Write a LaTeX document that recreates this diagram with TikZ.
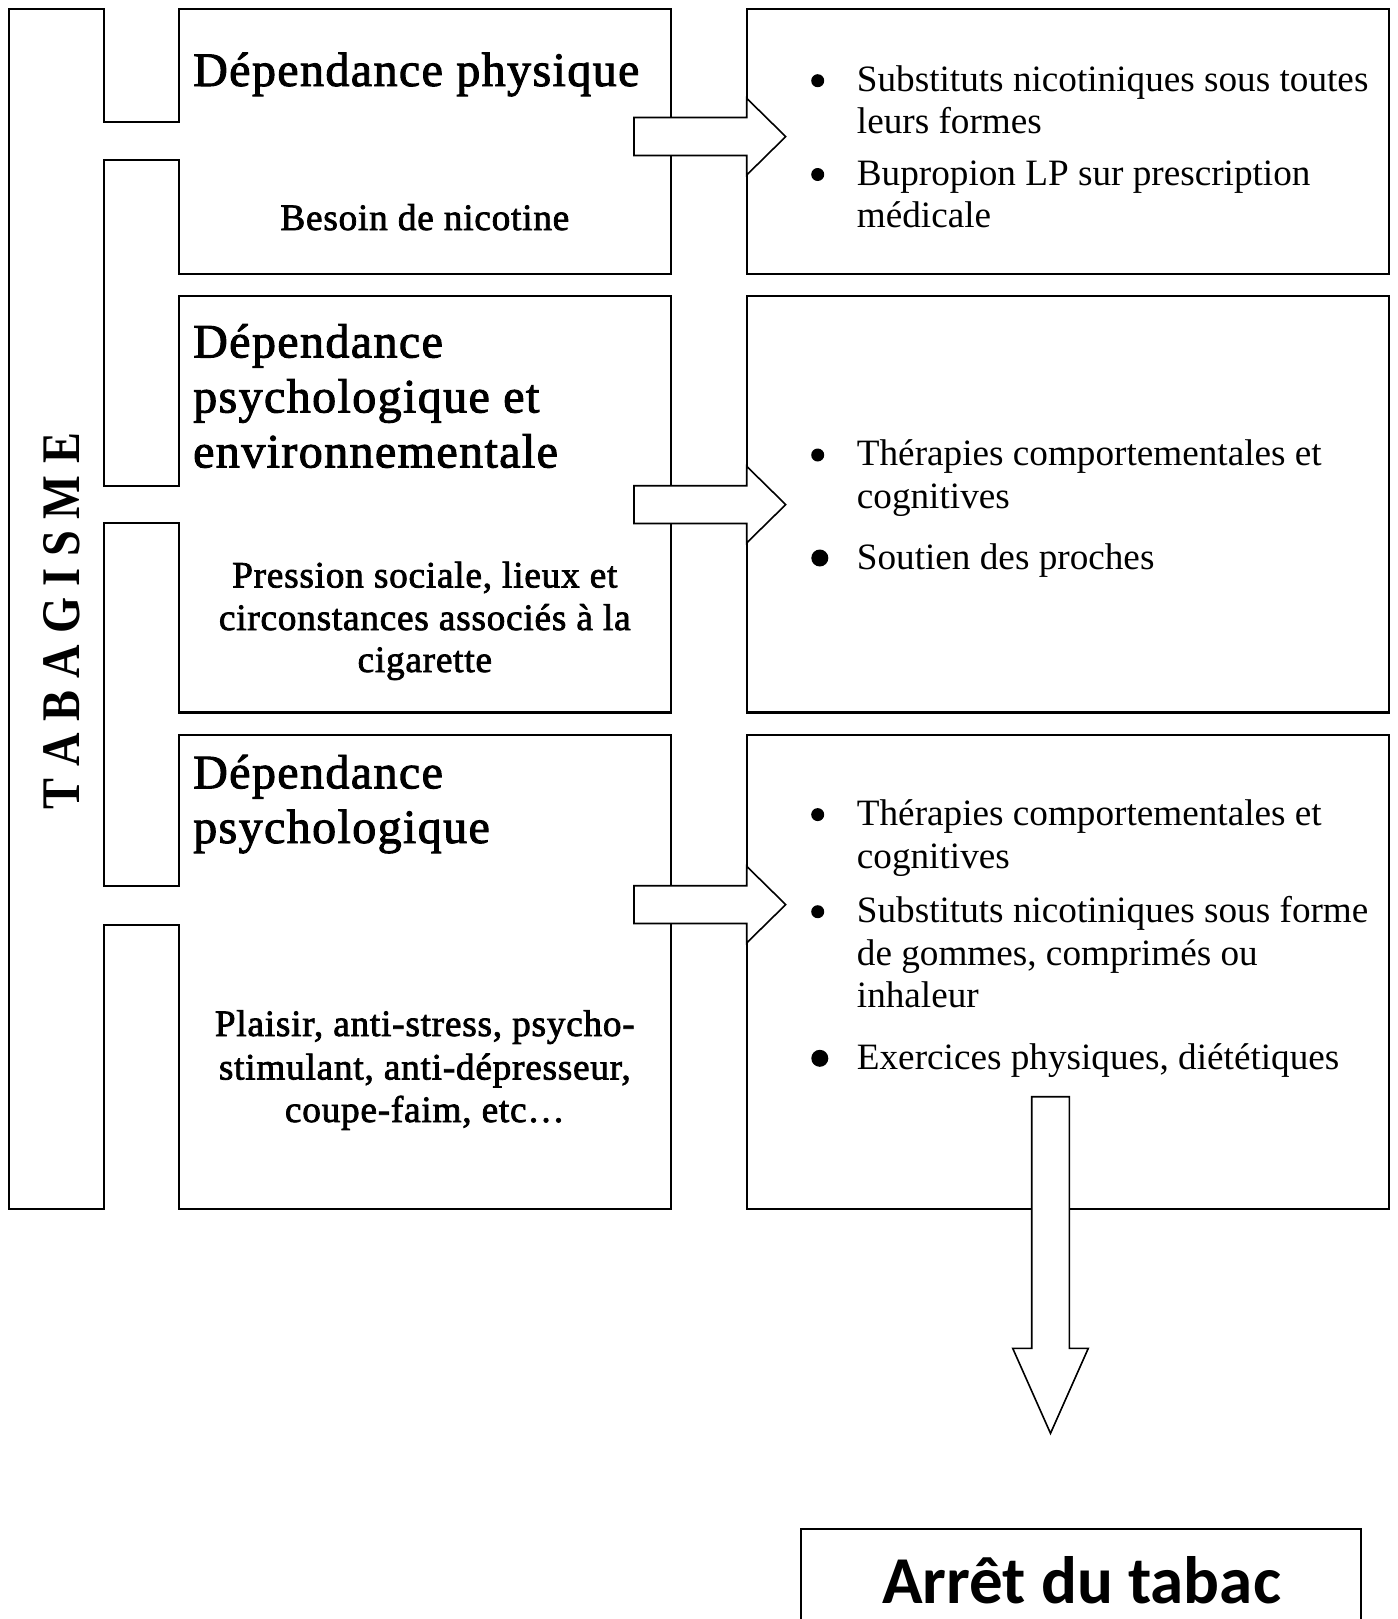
\documentclass[tikz,border=0pt]{standalone}
\usepackage{graphicx}
\usepackage{fontspec}
\setmainfont{Liberation Serif}
\newfontfamily\lfont{Liberation Serif}[FakeBold=2.0, LetterSpace=2.0]
\newfontfamily\tfont{Liberation Serif}[FakeBold=2.0, LetterSpace=2.9]
\newfontfamily\calib{Carlito}
\begin{document}
\begin{tikzpicture}[x=1pt,y=-1pt,
  frame/.style={draw=black, line width=2.2pt, line join=miter},
  blockarrow/.style={draw=black, fill=white, line width=1.6pt, line join=miter},
  rt/.style={anchor=base west, inner sep=0pt, font=\fontsize{37.2pt}{42pt}\selectfont},
  ttl/.style={anchor=base west, inner sep=0pt, font=\tfont\fontsize{48pt}{55pt}\selectfont},
  lt/.style={anchor=base, inner sep=0pt, font=\lfont\fontsize{37.3pt}{42pt}\selectfont},
  bul/.style={circle, fill=black, inner sep=0pt, minimum size=13pt},
  bigbul/.style={circle, fill=black, inner sep=0pt, minimum size=17pt}]
\useasboundingbox (0,0) rectangle (1397,1619);

% left structure: TABAGISME bar, tabs and left boxes
\draw[frame] (179,121.7) -- (103.7,121.7) -- (103.7,9.3) -- (9,9.3) -- (9,1209.3)
  -- (103.7,1209.3) -- (103.7,925) -- (179,925) -- (179,1209.3) -- (671,1209.3)
  -- (671,735) -- (179,735) -- (179,885.7) -- (103.7,885.7) -- (103.7,523.3)
  -- (179,523.3) -- (179,712.5) -- (671,712.5) -- (671,296) -- (179,296)
  -- (179,486) -- (103.7,486) -- (103.7,160) -- (179,160) -- (179,273.7)
  -- (671,273.7) -- (671,9.3) -- (179,9.3) -- cycle;

% right boxes
\draw[frame] (746.7,9.3) rectangle (1389,273.7);
\draw[frame] (746.7,296) rectangle (1389,712.5);
\draw[frame] (746.7,735) rectangle (1389,1209.3);

% TABAGISME
\node[rotate=90, inner sep=0pt] (tabac) at (61.3,621) {\resizebox{376pt}{36pt}{\bfseries T A B A G I S M E}};

% left column texts
\node[ttl] (t1) at (193,86) {Dépendance physique};
\node[lt] (s1) at (424.8,230) {Besoin de nicotine};

\node[ttl] (t2a) at (193,357.5) {Dépendance};
\node[ttl] (t2b) at (193,412.5) {psychologique et};
\node[ttl] (t2c) at (193,467.5) {environnementale};
\node[lt] (s2a) at (424.8,587.5) {Pression sociale, lieux et};
\node[lt] (s2b) at (424.8,630) {circonstances associés à la};
\node[lt] (s2c) at (424.8,672) {cigarette};

\node[ttl] (t3a) at (193,788.3) {Dépendance};
\node[ttl] (t3b) at (193,843) {psychologique};
\node[lt] (s3a) at (424.8,1036) {Plaisir, anti-stress, psycho-};
\node[lt] (s3b) at (424.8,1079.5) {stimulant, anti-dépresseur,};
\node[lt] (s3c) at (424.8,1122) {coupe-faim, etc…};

% right column texts
\node[bul] (ba1) at (817.7,80.7) {};
\node[rt] (ra1) at (856.7,91.6) {Substituts nicotiniques sous toutes};
\node[rt] (ra1b) at (856.7,133.9) {leurs formes};
\node[bul] (ba2) at (817.7,174.5) {};
\node[rt] (ra2) at (856.7,185.5) {Bupropion LP sur prescription};
\node[rt] (ra2b) at (856.7,227.8) {médicale};

\node[bul] (bb1) at (817.7,455) {};
\node[rt] (rb1) at (856.7,465.7) {Thérapies comportementales et};
\node[rt] (rb1b) at (856.7,508) {cognitives};
\node[bigbul] (bb2) at (819.8,558) {};
\node[rt] (rb2) at (856.7,569) {Soutien des proches};

\node[bul] (bc1) at (817.7,814.6) {};
\node[rt] (rc1) at (856.7,825.6) {Thérapies comportementales et};
\node[rt] (rc1b) at (856.7,868) {cognitives};
\node[bul] (bc2) at (817.7,911.7) {};
\node[rt] (rc2) at (856.7,922.7) {Substituts nicotiniques sous forme};
\node[rt] (rc2b) at (856.7,965) {de gommes, comprimés ou};
\node[rt] (rc2c) at (856.7,1007.3) {inhaleur};
\node[bigbul] (bc3) at (819.8,1058.3) {};
\node[rt] (rc3) at (856.7,1069.3) {Exercices physiques, diététiques};

% block arrows left -> right
\draw[blockarrow] (634,117.5) -- (746.7,117.5) -- (746.7,98.3) -- (785.7,136.6)
  -- (746.7,175) -- (746.7,155.5) -- (634,155.5) -- cycle;
\draw[blockarrow] (634,485.7) -- (746.7,485.7) -- (746.7,466.3) -- (785.7,504.6)
  -- (746.7,542.9) -- (746.7,523.5) -- (634,523.5) -- cycle;
\draw[blockarrow] (634,885.7) -- (746.7,885.7) -- (746.7,866.3) -- (785.7,904.6)
  -- (746.7,942.9) -- (746.7,923.5) -- (634,923.5) -- cycle;

% down arrow
\draw[blockarrow] (1031.7,1096.7) -- (1069.3,1096.7) -- (1069.3,1348.3) -- (1088.3,1348.3)
  -- (1050.5,1433.3) -- (1012.7,1348.3) -- (1031.7,1348.3) -- cycle;

% final box (cut by the page bottom)
\draw[frame] (800.7,1619) -- (800.7,1529.3) -- (1360.8,1529.3) -- (1360.8,1619);
\node[anchor=base, inner sep=0pt, font=\calib\bfseries\fontsize{67pt}{80pt}\selectfont] (fin) at (1081.5,1603) {Arrêt du tabac};
\end{tikzpicture}
\end{document}
